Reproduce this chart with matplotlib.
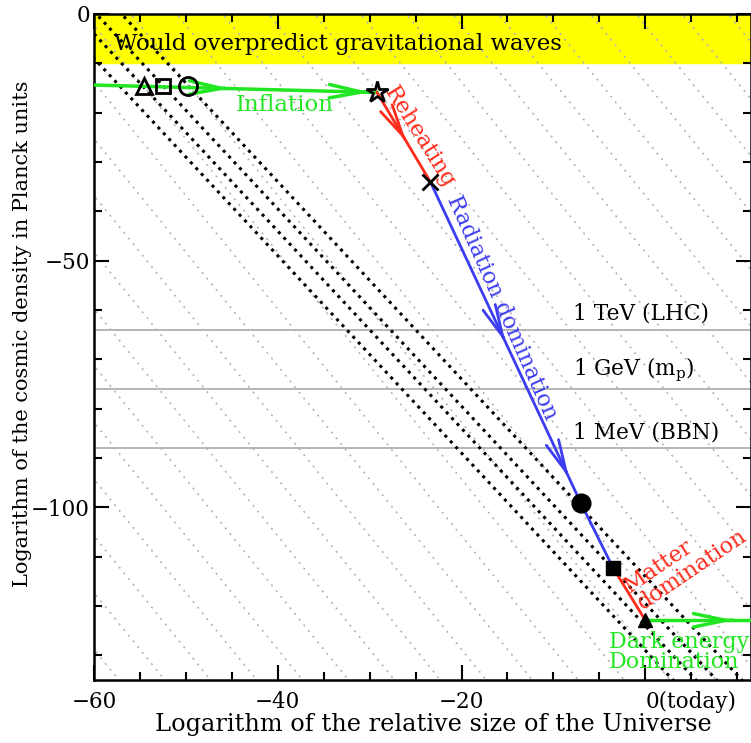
import numpy as np
import matplotlib
matplotlib.use("Agg")
import matplotlib.pyplot as plt
import matplotlib.transforms as mtransforms
from matplotlib.ticker import MultipleLocator, FixedLocator

# Track of the Universe through the cosmic epochs (log10 a, log10 rho)
inflation_x = [-60.0, -29.2]
inflation_y = [-14.4, -15.9]
reheating_x = [-29.2, -23.4]
reheating_y = [-15.9, -34.0]
radiation_x = [-23.4, -7.0, -3.5]
radiation_y = [-34.0, -99.2, -112.3]
matter_x = [-3.5, 0.0]
matter_y = [-112.3, -122.9]
dark_x = [0.0, 11.5]
dark_y = [-122.9, -122.9]

# open symbols on the inflation line, filled ones on the later track
open_x = [-54.6, -52.5, -49.8]
open_y = [-14.6, -14.6, -14.6]
filled_x = [-7.0, -3.5, 0.0]
filled_y = [-99.2, -112.3, -122.9]

# curvature lines (rho ~ a^-2) and background guide lines
curv_slope = -2.0
curv_intercepts = [-114.0, -119.5, -124.0, -129.0]
guide_slope = -2.3
guide_x0 = np.arange(-121, 15, 5)

gw_limit = -10.0
energy_names = ["1 TeV (LHC)", "1 GeV (m$_\\mathrm{p}$)", "1 MeV (BBN)"]
energy_rho = [-64.0, -76.0, -88.0]

GREEN = "#22e622"
RED = "#ff2a1a"
BLUE = "#3c3cf0"

plt.rcParams["font.family"] = ["DejaVu Serif"]
plt.rcParams["mathtext.fontset"] = "dejavuserif"

fig = plt.figure(figsize=(7.51, 7.43), dpi=100)
ax = fig.add_axes([94 / 751, 1 - 680 / 743, 657 / 751, 666 / 743])
xmin, xmax = -60.0, 11.5
ymin, ymax = -135.0, 0.0
ax.set_xlim(xmin, xmax)
ax.set_ylim(ymin, ymax)

ax.axhspan(gw_limit, ymax, color="#ffff00", zorder=0)

xs = np.array([xmin - 80, xmax + 80])
for x0 in guide_x0:
    ax.plot(xs, guide_slope * (xs - x0), color="#b4b4b4", lw=1.2,
            ls=(0, (1.2, 3.2)), zorder=1)

for c in curv_intercepts:
    ax.plot(xs, c + curv_slope * xs, color="black", lw=2.2,
            ls=(0, (1, 1.6)), zorder=2)

for rho in energy_rho:
    ax.axhline(rho, color="#b0b0b0", lw=1.3, zorder=1)
for name, rho in zip(energy_names, energy_rho):
    ax.text(-7.9, rho + 1.0, name, fontsize=15.6, va="bottom", ha="left", zorder=5)

ax.plot(inflation_x, inflation_y, color=GREEN, lw=2.5, zorder=3)
ax.plot(reheating_x, reheating_y, color=RED, lw=2.0, zorder=3)
ax.plot(radiation_x, radiation_y, color=BLUE, lw=2.0, zorder=3)
ax.plot(matter_x, matter_y, color=RED, lw=2.0, zorder=3)
ax.plot(dark_x, dark_y, color=GREEN, lw=2.5, zorder=3)


def chevron(xp, yp, frac, color, lw):
    # open arrowhead placed a fraction of the way along a segment
    x0, x1 = xp
    y0, y1 = yp
    tx, ty = x0 + frac * (x1 - x0), y0 + frac * (y1 - y0)
    bx, by = x0 + (frac - 0.02) * (x1 - x0), y0 + (frac - 0.02) * (y1 - y0)
    ax.annotate("", xy=(tx, ty), xytext=(bx, by),
                arrowprops=dict(arrowstyle="->,head_length=1.05,head_width=0.22",
                                color=color, lw=lw, shrinkA=0, shrinkB=0,
                                mutation_scale=22), zorder=4)


chevron(inflation_x, inflation_y, 0.48, GREEN, 2.5)
chevron(inflation_x, inflation_y, 0.975, GREEN, 2.5)
chevron(reheating_x, reheating_y, 0.55, RED, 2.0)
chevron(radiation_x[:2], radiation_y[:2], 0.5, BLUE, 2.0)
chevron(radiation_x[:2], radiation_y[:2], 0.92, BLUE, 2.0)
chevron(dark_x, dark_y, 0.84, GREEN, 2.5)

for m, x, y, s in zip(["^", "s", "o"], open_x, open_y, [12, 10.5, 13]):
    ax.plot(x, y, marker=m, ms=s, mfc="none", mec="black", mew=2.0, zorder=6)
for m, x, y, s in zip(["o", "s", "^"], filled_x, filled_y, [13.5, 9.5, 10.5]):
    ax.plot(x, y, marker=m, ms=s, color="black", zorder=6)
ax.plot(inflation_x[1], inflation_y[1], marker="*", ms=16, mfc="none",
        mec="black", mew=2.0, zorder=6)
ax.plot(reheating_x[1], reheating_y[1], marker="x", ms=11, color="black",
        mew=2.0, zorder=6)

ax.text(-57.8, -6.0, "Would overpredict gravitational waves", fontsize=16.5,
        va="center", ha="left", zorder=5)
ax.text(-44.6, -18.5, "Inflation", color=GREEN, fontsize=16.5, va="center",
        ha="left", zorder=5)
ax.text(-24.6, -25.0, "Reheating", color=RED, fontsize=16, rotation=-58,
        va="center", ha="center", rotation_mode="anchor", zorder=5)
ax.text(-15.6, -59.5, "Radiation domination", color=BLUE, fontsize=16,
        rotation=-66, va="center", ha="center", rotation_mode="anchor", zorder=5)
ax.text(-1.7, -117.4, "Matter", color=RED, fontsize=16, rotation=34,
        va="baseline", ha="left", rotation_mode="anchor", zorder=5)
ax.text(-0.3, -120.8, "domination", color=RED, fontsize=16, rotation=34,
        va="baseline", ha="left", rotation_mode="anchor", zorder=5)
ax.text(-4.0, -125.0, "Dark energy\nDomination", color=GREEN, fontsize=16,
        va="top", ha="left", linespacing=0.88, zorder=5)

ax.xaxis.set_major_locator(FixedLocator([-60, -40, -20, 0]))
ax.xaxis.set_minor_locator(MultipleLocator(5))
ax.yaxis.set_major_locator(FixedLocator([0, -50, -100]))
ax.yaxis.set_minor_locator(MultipleLocator(10))
ax.set_xticklabels(["\u221260", "\u221240", "\u221220", "0(today)"])
ax.set_yticklabels(["0", "\u221250", "\u2212100"])
lab = ax.get_xticklabels()[-1]
lab.set_horizontalalignment("left")
lab.set_transform(lab.get_transform() + mtransforms.ScaledTranslation(
    -6 / 72, 0, fig.dpi_scale_trans))

ax.tick_params(which="both", direction="in", top=True, right=True,
               labelsize=15.5, width=1.5)
ax.tick_params(which="major", length=11)
ax.tick_params(which="minor", length=6)
ax.tick_params(axis="x", which="major", pad=8)
ax.tick_params(axis="y", which="major", pad=3)
for sp in ax.spines.values():
    sp.set_linewidth(1.8)

ax.set_xlabel("Logarithm of the relative size of the Universe", fontsize=17.3)
ax.set_ylabel("Logarithm of the cosmic density in Planck units", fontsize=15)
ax.xaxis.set_label_coords(0.516, -0.05)
ax.yaxis.set_label_coords(-0.095, 0.52)

fig.savefig("out.png", dpi=100)
